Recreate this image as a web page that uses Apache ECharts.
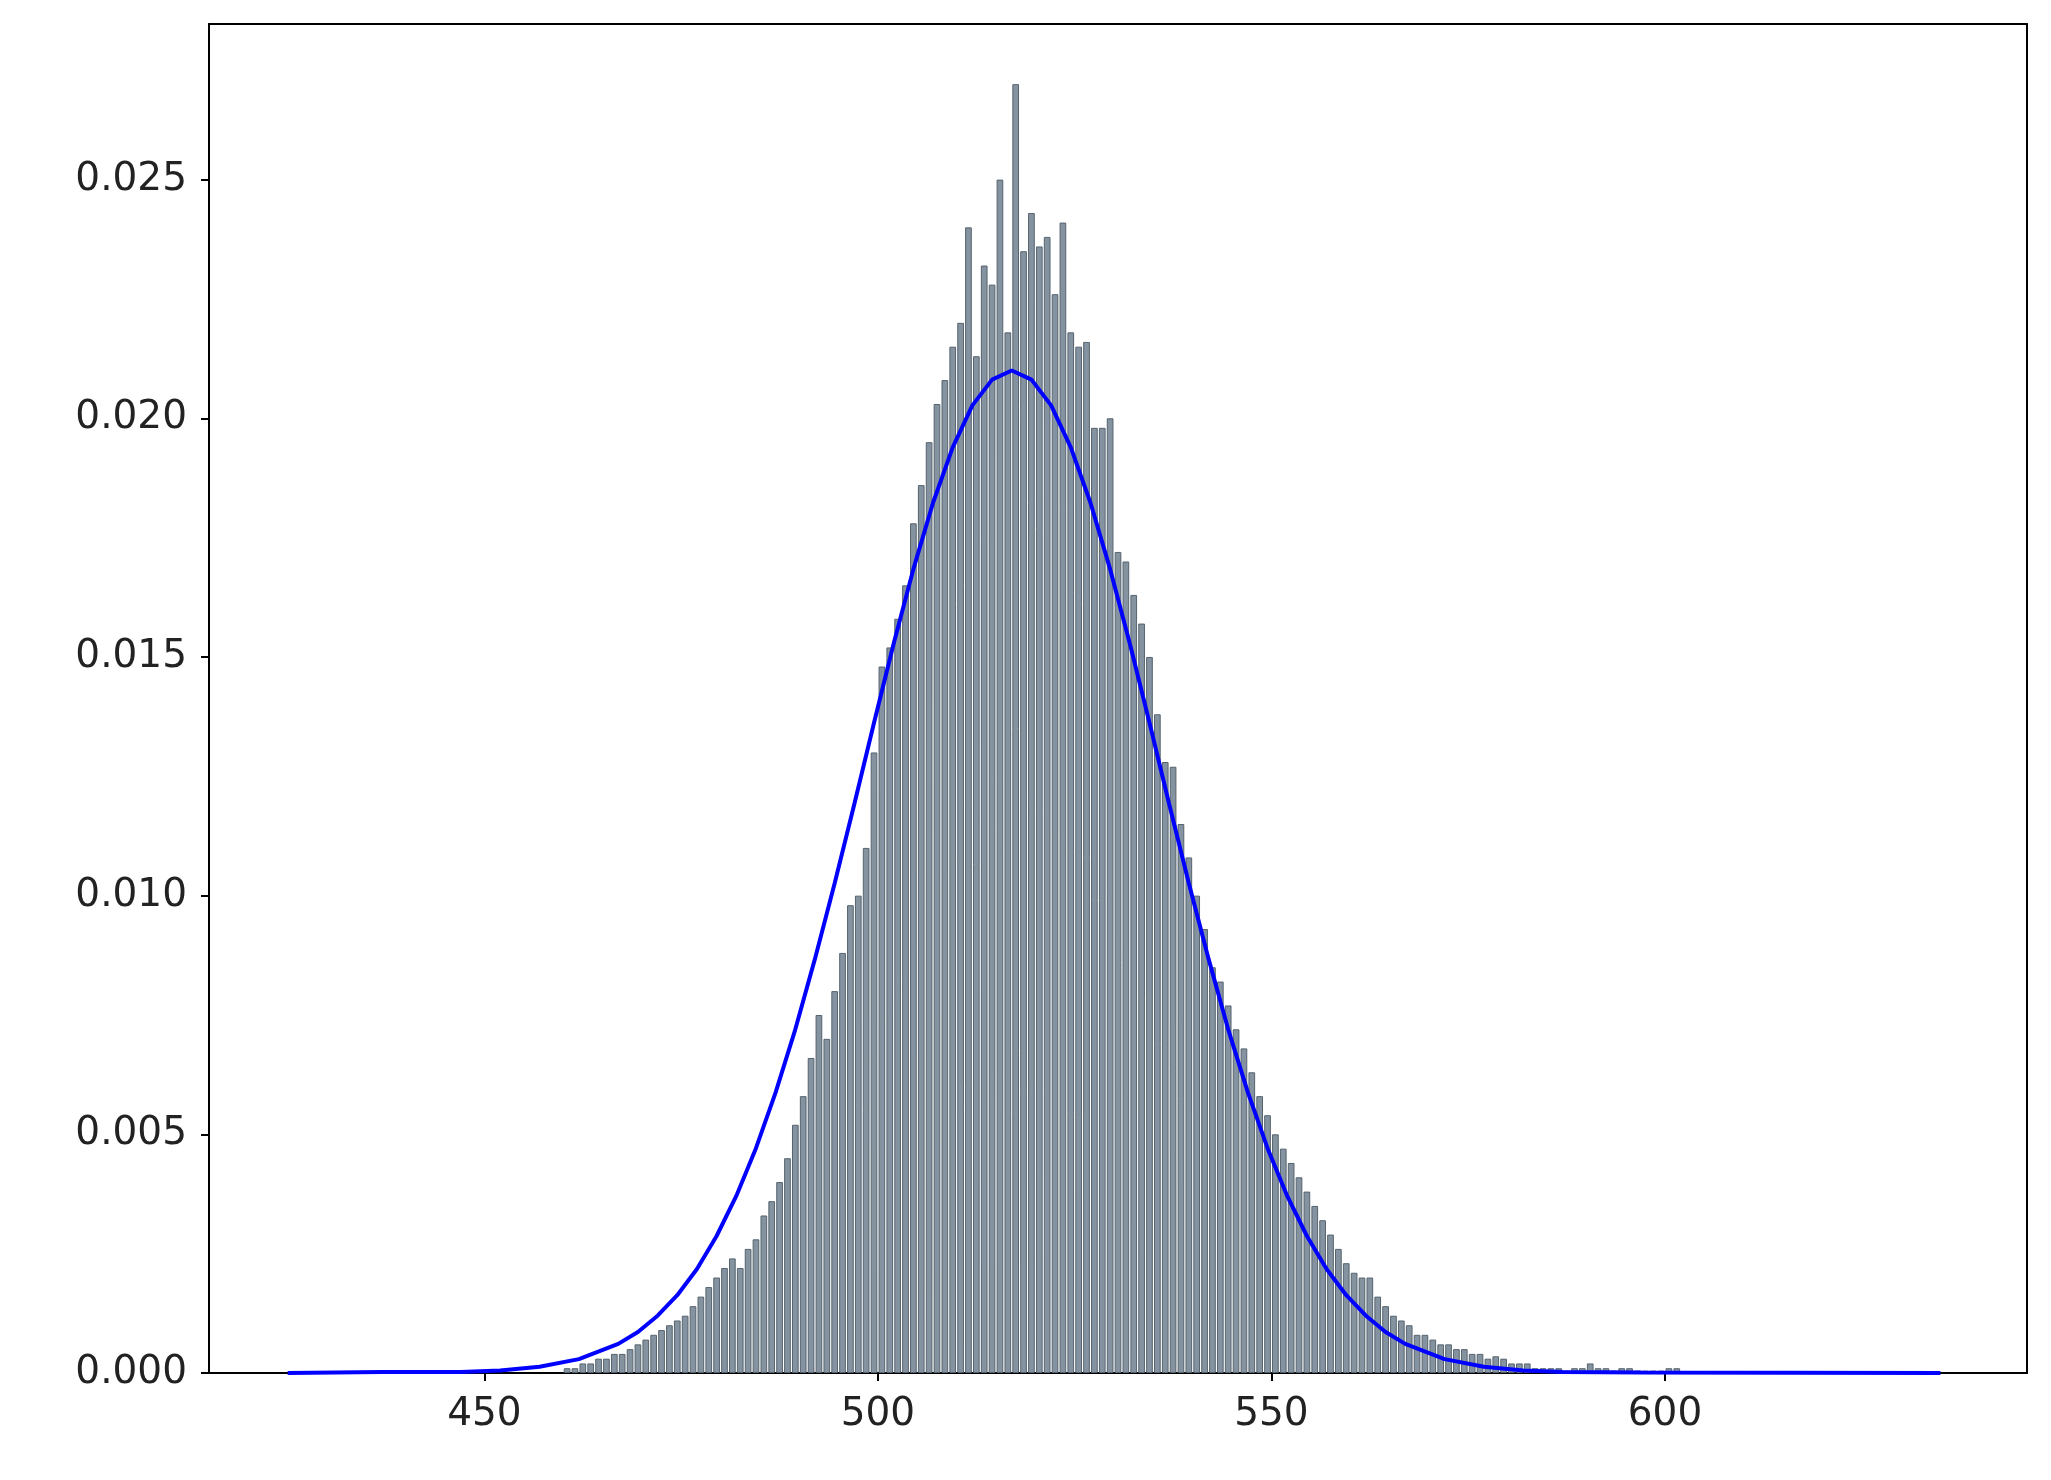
<!DOCTYPE html>
<html><head><meta charset="utf-8">
<script src="https://cdn.jsdelivr.net/npm/echarts@6/dist/echarts.min.js"></script>
<style>html,body{margin:0;background:#fff}#c{width:2051px;height:1480px}</style>
</head><body><div id="c"></div>
<script>
const binStart = 460;
const binValues = [
0.0001,0.0001,0.0002,0.0002,0.0003,0.0003,0.0004,0.0004,0.0005,0.0006,
0.0007,0.0008,0.0009,0.0010,0.0011,0.0012,0.0014,0.0016,0.0018,0.0020,
0.0022,0.0024,0.0022,0.0026,0.0028,0.0033,0.0036,0.0040,0.0045,0.0052,
0.0058,0.0066,0.0075,0.0070,0.0080,0.0088,0.0098,0.0100,0.0110,0.0130,
0.0148,0.0152,0.0158,0.0165,0.0178,0.0186,0.0195,0.0203,0.0208,0.0215,
0.0220,0.0240,0.0213,0.0232,0.0228,0.0250,0.0218,0.0270,0.0235,0.0243,
0.0236,0.0238,0.0226,0.0241,0.0218,0.0215,0.0216,0.0198,0.0198,0.0200,
0.0172,0.0170,0.0163,0.0157,0.0150,0.0138,0.0128,0.0127,0.0115,0.0108,
0.0100,0.0093,0.0085,0.0082,0.0077,0.0072,0.0068,0.0063,0.0058,0.0054,
0.0050,0.0047,0.0044,0.0041,0.0038,0.0035,0.0032,0.0029,0.0026,0.0023,
0.0021,0.0020,0.0020,0.0016,0.0014,0.0012,0.0011,0.0010,0.0008,0.0008,
0.0007,0.0006,0.0006,0.0005,0.0005,0.0004,0.0004,0.0003,0.00035,0.0003,
0.0002,0.0002,0.0002,0.0001,0.0001,0.0001,0.0001,0.00005,0.0001,0.0001,
0.0002,0.0001,0.0001,0.00005,0.0001,0.0001,0.00005,0.00005,0.00005,0.00005,
0.0001,0.0001
];
const curveX = [425,437,447,452,457,462,467,469.5,472,474.5,477,479.5,482,484.5,487,489.5,492,494.5,497,499.5,502,504.5,507,509.5,512,514.5,517,
519.5,522,524.5,527,529.5,532,534.5,537,539.5,542,544.5,547,549.5,552,554.5,557,559.5,562,564.5,567,572,577,582,587,597,635];
const curveY = [0,0.00002,0.00002,0.00005,0.00013,0.00029,0.00061,0.00086,0.00120,0.00163,0.00218,0.00287,0.00371,0.00471,0.00588,0.00720,0.00868,0.01026,0.01192,0.01362,0.01528,0.01684,0.01823,0.01939,0.02027,0.02081,0.0210,
0.02081,0.02027,0.01939,0.01823,0.01684,0.01528,0.01362,0.01192,0.01026,0.00868,0.00720,0.00588,0.00471,0.00371,0.00287,0.00218,0.00163,0.00120,0.00086,0.00061,0.00029,0.00013,0.00005,0.00002,0.00001,0];
const xTicks = [450,500,550,600];
const yTicks = [0,0.005,0.010,0.015,0.020,0.025];

const bars = binValues.map((v,i)=>[binStart+i+0.5, v]);
const curve = curveX.map((x,i)=>[x, curveY[i]]);
const font = {fontFamily:'DejaVu Sans', fontSize:39, color:'#222'};
const frame = {show:true,onZero:false,lineStyle:{color:'#000',width:2}};
const chart = echarts.init(document.getElementById('c'));
chart.setOption({
  animation:false,
  grid:{left:209,right:24,top:24,bottom:107},
  xAxis:[{type:'value',min:415,max:646,
    axisLine:frame,
    splitLine:{show:false},
    axisLabel:Object.assign({margin:22,customValues:xTicks},font),
    axisTick:{show:true,customValues:xTicks,length:8,lineStyle:{color:'#000',width:2}}
  },{type:'value',position:'top',min:415,max:646,axisLine:frame,axisTick:{show:false},axisLabel:{show:false},splitLine:{show:false}}],
  yAxis:[{type:'value',min:0,max:0.02826,
    axisLine:frame,
    splitLine:{show:false},
    axisLabel:Object.assign({margin:22,customValues:yTicks,formatter:v=>v.toFixed(3)},font),
    axisTick:{show:true,customValues:yTicks,length:8,lineStyle:{color:'#000',width:2}}
  },{type:'value',position:'right',min:0,max:0.02826,axisLine:frame,axisTick:{show:false},axisLabel:{show:false},splitLine:{show:false}}],
  series:[
    {type:'bar',data:bars,barWidth:'85%',
     itemStyle:{color:'rgba(112,128,144,0.85)',borderColor:'#55636e',borderWidth:1}},
    {type:'line',data:curve,smooth:false,showSymbol:false,
     lineStyle:{color:'#0000ff',width:4}}
  ]
});
</script></body></html>
